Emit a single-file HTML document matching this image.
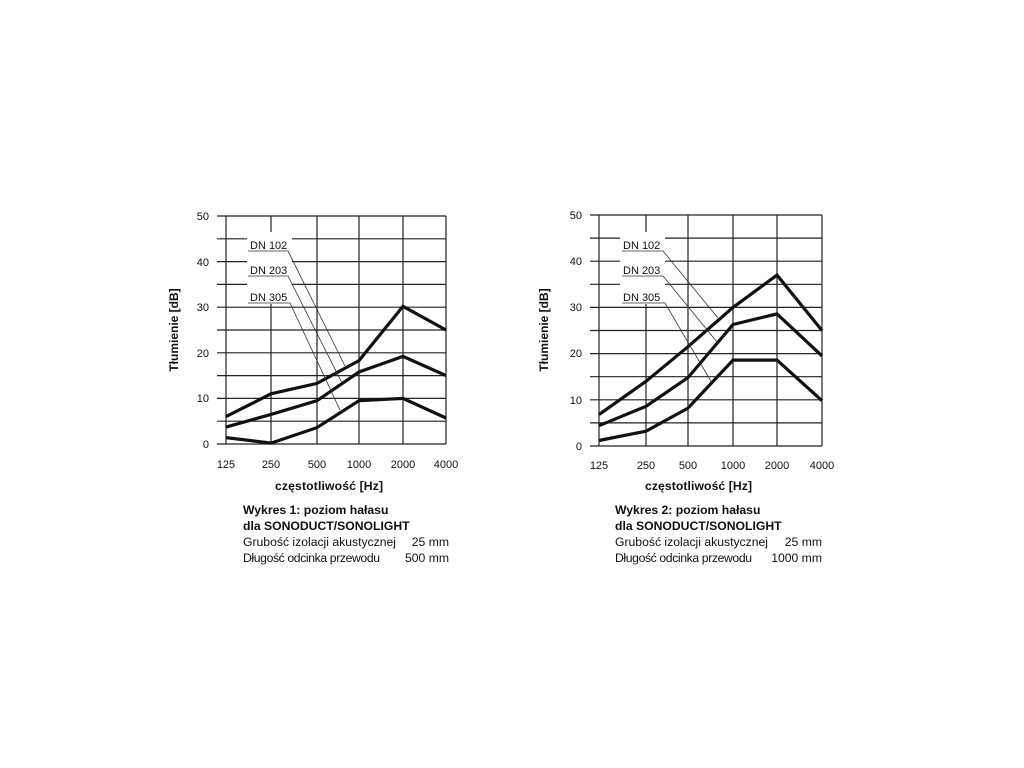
<!DOCTYPE html>
<html><head><meta charset="utf-8"><style>
html,body{margin:0;padding:0;background:#fff;}
svg{display:block;}
text{font-family:"Liberation Sans",sans-serif;fill:#111;}
.t{font-size:11px;}
text.c,.c text{font-size:12.2px;}
</style></head><body>
<svg width="1024" height="768" viewBox="0 0 1024 768" xmlns="http://www.w3.org/2000/svg">
<rect width="1024" height="768" fill="#fff"/>
<!-- Chart 1 grid -->
<g stroke="#222" stroke-width="1.2" fill="none">
<path d="M217 444H446M217 421.2H446M217 398.4H446M217 375.6H446M217 352.8H446M217 330H446M217 307.2H446M217 284.4H446M217 261.6H446M217 238.8H446M217 216H446"/>
<path d="M226 216V444M271 216V444M317 216V444M359 216V444M403 216V444M446 216V444"/>
</g>
<rect x="247" y="232" width="45" height="72" fill="#fff"/>
<g stroke="#111" stroke-width="3.2" fill="none" stroke-linejoin="miter">
<polyline points="226,416.6 271,393.8 317,383.4 359,360.6 403,306.3 446,330"/>
<polyline points="226,427.1 271,414.4 317,400.7 359,372 403,356.4 446,375.6"/>
<polyline points="226,437.6 271,443.1 317,427.6 359,400.7 403,398.4 446,418"/>
</g>
<g stroke="#333" stroke-width="0.8" fill="none">
<polyline points="248,251 288,251 345,366"/>
<polyline points="248,276 288,276 342,383"/>
<polyline points="248,303 290,303 340,410"/>
</g>
<g class="t">
<text x="250" y="249">DN  102</text>
<text x="250" y="274">DN  203</text>
<text x="250" y="301">DN  305</text>
</g>
<g class="t" text-anchor="end">
<text x="209" y="220">50</text><text x="209" y="266">40</text><text x="209" y="311">30</text>
<text x="209" y="357">20</text><text x="209" y="402">10</text><text x="209" y="448">0</text>
</g>
<g class="t" text-anchor="middle">
<text x="226" y="468">125</text><text x="271" y="468">250</text><text x="317" y="468">500</text>
<text x="359" y="468">1000</text><text x="403" y="468">2000</text><text x="446" y="468">4000</text>
</g>
<text class="t" transform="translate(178,330) rotate(-90)" text-anchor="middle" style="font-size:12px;font-weight:bold">Tłumienie [dB]</text>
<g class="c">
<text x="275" y="490" font-weight="bold" textLength="108">częstotliwość [Hz]</text>
<text x="243" y="514" font-weight="bold">Wykres 1: poziom hałasu</text>
<text x="243" y="530" font-weight="bold">dla SONODUCT/SONOLIGHT</text>
<text x="243" y="546" textLength="153">Grubość izolacji akustycznej</text>
<text x="449" y="546" text-anchor="end">25 mm</text>
<text x="243" y="562" textLength="137">Długość odcinka przewodu</text>
<text x="449" y="562" text-anchor="end">500 mm</text>
</g>

<!-- Chart 2 grid -->
<g stroke="#222" stroke-width="1.2" fill="none">
<path d="M590 446H822M590 422.9H822M590 399.8H822M590 376.7H822M590 353.6H822M590 330.5H822M590 307.4H822M590 284.3H822M590 261.2H822M590 238.1H822M590 215H822"/>
<path d="M599 215V446M646 215V446M688 215V446M733 215V446M777 215V446M822 215V446"/>
</g>
<rect x="620" y="232" width="45" height="72" fill="#fff"/>
<g stroke="#111" stroke-width="3.2" fill="none">
<polyline points="599,414.6 646,381.3 688,346.7 733,307.4 777,275.1 822,330.5"/>
<polyline points="599,425.7 646,406.3 688,377.6 733,324.5 777,313.9 822,355.9"/>
<polyline points="599,440.5 646,431.2 688,408.1 733,360.1 777,360.1 822,400.7"/>
</g>
<g stroke="#333" stroke-width="0.8" fill="none">
<polyline points="622,251 663,251 718,318"/>
<polyline points="622,276 663,276 717,342"/>
<polyline points="622,303 665,303 712,383"/>
</g>
<g class="t">
<text x="623" y="249">DN  102</text>
<text x="623" y="274">DN  203</text>
<text x="623" y="301">DN  305</text>
</g>
<g class="t" text-anchor="end">
<text x="582" y="219">50</text><text x="582" y="265">40</text><text x="582" y="311">30</text>
<text x="582" y="357">20</text><text x="582" y="404">10</text><text x="582" y="450">0</text>
</g>
<g class="t" text-anchor="middle">
<text x="599" y="469">125</text><text x="646" y="469">250</text><text x="688" y="469">500</text>
<text x="733" y="469">1000</text><text x="777" y="469">2000</text><text x="822" y="469">4000</text>
</g>
<text class="t" transform="translate(548,330) rotate(-90)" text-anchor="middle" style="font-size:12px;font-weight:bold">Tłumienie [dB]</text>
<g class="c">
<text x="645" y="490" font-weight="bold" textLength="107">częstotliwość [Hz]</text>
<text x="615" y="514" font-weight="bold">Wykres 2: poziom hałasu</text>
<text x="615" y="530" font-weight="bold">dla SONODUCT/SONOLIGHT</text>
<text x="615" y="546" textLength="153">Grubość izolacji akustycznej</text>
<text x="822" y="546" text-anchor="end">25 mm</text>
<text x="615" y="562" textLength="137">Długość odcinka przewodu</text>
<text x="822" y="562" text-anchor="end">1000 mm</text>
</g>
</svg>
</body></html>
